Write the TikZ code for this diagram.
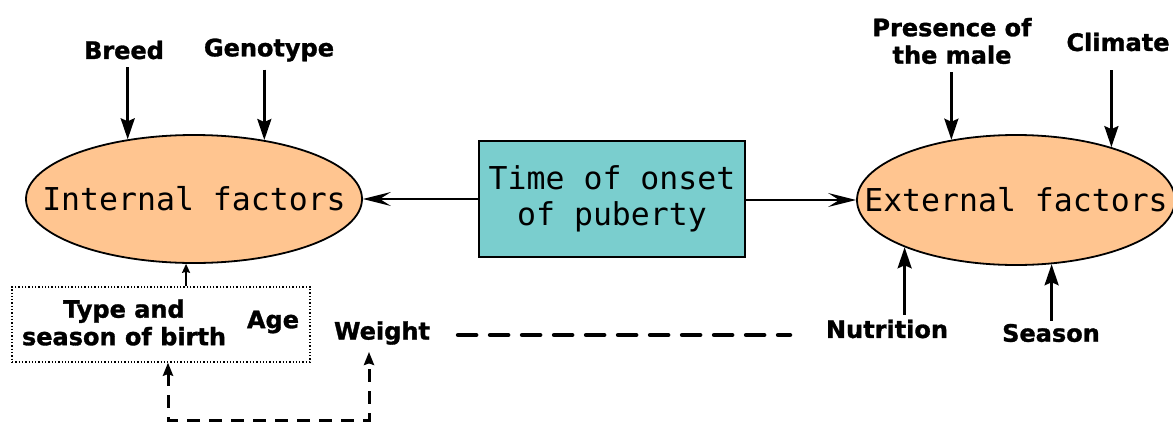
\documentclass[tikz,border=0pt]{standalone}
\usepackage{fontspec}
\setmainfont{DejaVu Sans}[BoldFeatures={FakeBold=1.3}]
\newfontfamily\monofam{DejaVu Sans Mono}
\usetikzlibrary{shapes.geometric,arrows.meta,calc}
\definecolor{peach}{HTML}{FFC590}
\definecolor{tealbox}{HTML}{7ACECE}
\tikzset{
  lab/.style={font=\fontsize{24}{27.5}\selectfont\bfseries, align=center, inner sep=0pt},
  factor/.style={ellipse, draw, line width=1.8pt, fill=peach, inner sep=0pt},
  factortext/.style={font=\monofam\fontsize{31.5}{34}\selectfont, inner sep=0pt},
  centrebox/.style={draw, line width=1.6pt, fill=tealbox, inner sep=0pt,
    minimum width=266pt, minimum height=116pt, align=center,
    font=\monofam\fontsize{31.5}{36}\selectfont},
  inarrow/.style={line width=2.6pt, -{Stealth[length=21pt,width=14pt,inset=3pt]}},
  outarrow/.style={line width=1.6pt, -{Stealth[length=28pt,width=14pt,inset=11pt]}},
  thinarrow/.style={line width=1.6pt, -{Stealth[length=9pt,width=8pt,inset=1pt]}},
  linkdash/.style={line width=4.5pt, line cap=round, dash pattern=on 18pt off 14pt},
  bracketdash/.style={line width=3pt, dash pattern=on 13pt off 9pt,
    {Stealth[length=13pt,width=10pt,inset=1.5pt]}-{Stealth[length=13pt,width=10pt,inset=1.5pt]}},
  groupbox/.style={draw, line width=1.3pt, dotted, minimum width=298pt, minimum height=75pt, inner sep=0pt}
}
\begin{document}
\begin{tikzpicture}[x=1pt,y=-1pt]
\useasboundingbox (0,0) rectangle (1173,421);

% central box and the two groups of factors
\node[centrebox] (onset) at (612,199) {Time of onset\\of puberty};
\node[factor, minimum width=336pt, minimum height=128pt] (intf) at (194,199) {};
\node[factortext] (inttext) at (intf.center) {Internal factors};
\node[factor, minimum width=318pt, minimum height=130pt] (extf) at (1016,200) {};
\node[factortext] (exttext) at (extf.center) {External factors};

\draw[outarrow] (onset.west |- intf.east) -- (intf.east);
\draw[outarrow] (onset.east |- extf.west) -- (extf.west);

% internal factor labels
\node[lab] (breed) at (124,50) {Breed};
\node[lab] (geno) at (269,50) {Genotype};
\draw[inarrow] (intf.138.3 |- breed.south) ++(0,8) -- (intf.138.3);
\draw[inarrow] (intf.40.2 |- geno.south) ++(0,8) -- (intf.40.2);

\node[groupbox] (group) at (161,324.5) {};
\node[lab] (birth) at (124,322.5) {Type and\\season of birth};
\node[lab] (age) at (273,322) {Age};
\draw[thinarrow] (intf.263 |- group.north) -- (intf.263);

% external factor labels
\node[lab] (male) at (952,41) {Presence of\\the male};
\node[lab] (climate) at (1118,42) {Climate};
\node[lab] (nutri) at (887,329) {Nutrition};
\node[lab] (season) at (1051,333) {Season};
\draw[inarrow] (extf.137.6 |- male.south) ++(0,8) -- (extf.137.6);
\draw[inarrow] (extf.29.1 |- climate.south) ++(0,19) -- (extf.29.1);
\draw[inarrow] (extf.203.8 |- nutri.north) ++(0,-5) -- (extf.203.8);
\draw[inarrow] (extf.299.6 |- season.north) ++(0,-3) -- (extf.299.6);

% weight and its links
\node[lab] (weight) at (382,333) {Weight};
\coordinate (linkend) at (790,335);
\draw[linkdash] ($(weight.east)+(28,2)$) -- (linkend);

\coordinate (split) at (168,420);
\draw[bracketdash] (group.south -| split) -- (split) -| ($(weight.south)+(-13,7)$);
\end{tikzpicture}
\end{document}
